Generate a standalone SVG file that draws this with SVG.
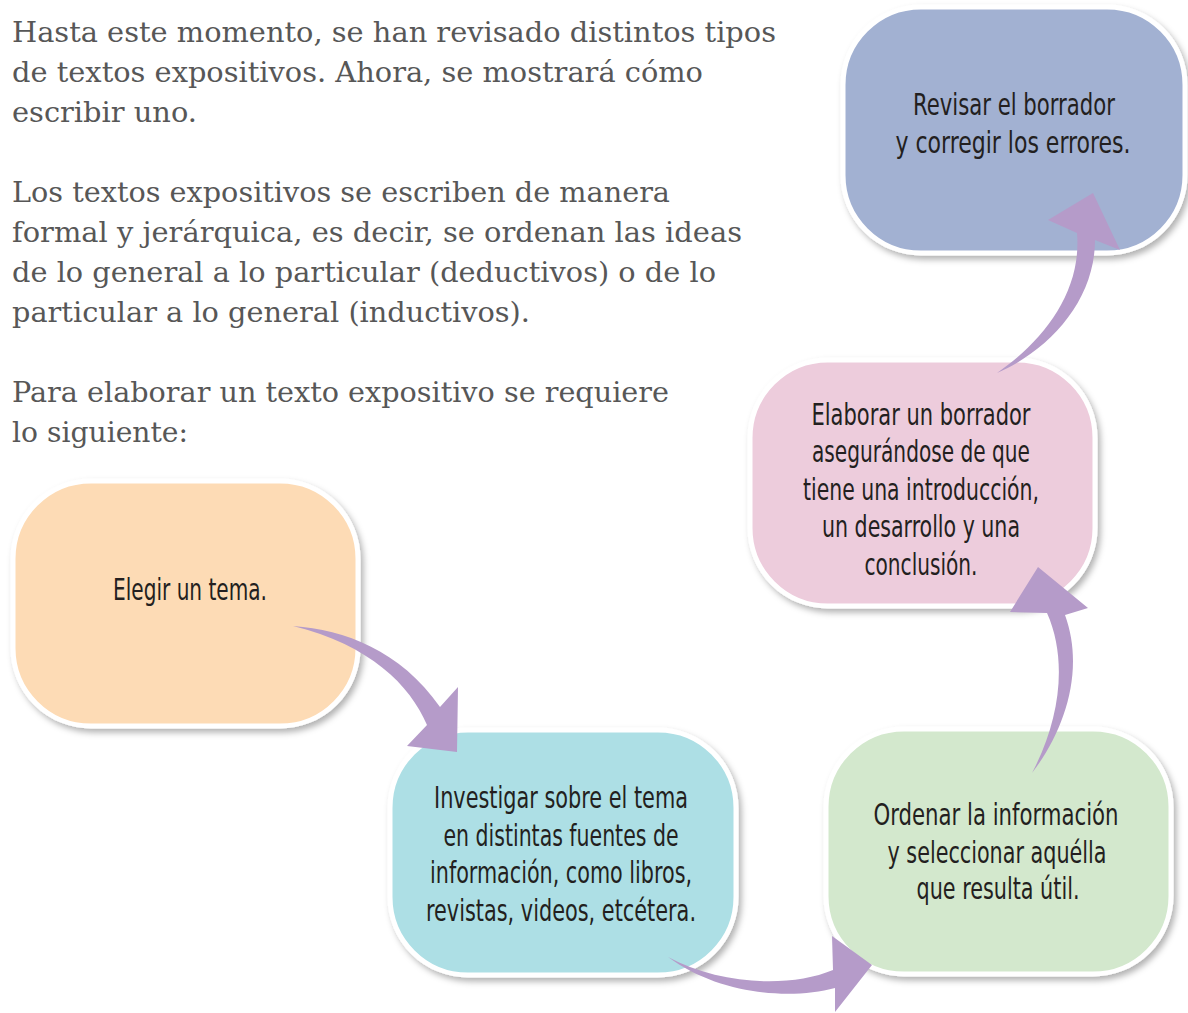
<svg xmlns="http://www.w3.org/2000/svg" width="1188" height="1013" viewBox="0 0 1188 1013">
<defs>
<filter id="sh" x="-10%" y="-10%" width="125%" height="125%">
<feDropShadow dx="3" dy="4" stdDeviation="3" flood-color="#000" flood-opacity="0.3"/>
</filter>
<style>
.p{font-family:"DejaVu Serif","Liberation Serif",serif;font-size:27px;fill:#575757}
.b{stroke:#fff;stroke-width:5;filter:url(#sh)}
.t{font-family:"DejaVu Sans Condensed","DejaVu Sans","Liberation Sans",sans-serif;font-size:30px;fill:#231f20;text-anchor:middle}
.a{fill:#b59bc9}
</style>
</defs>
<g id="intro">
<text class="p" x="12" y="42" textLength="764" lengthAdjust="spacingAndGlyphs">Hasta este momento, se han revisado distintos tipos</text>
<text class="p" x="12" y="82" textLength="691" lengthAdjust="spacingAndGlyphs">de textos expositivos. Ahora, se mostrará cómo</text>
<text class="p" x="12" y="122" textLength="185" lengthAdjust="spacingAndGlyphs">escribir uno.</text>
<text class="p" x="12" y="202" textLength="658" lengthAdjust="spacingAndGlyphs">Los textos expositivos se escriben de manera</text>
<text class="p" x="12" y="242" textLength="730" lengthAdjust="spacingAndGlyphs">formal y jerárquica, es decir, se ordenan las ideas</text>
<text class="p" x="12" y="282" textLength="704" lengthAdjust="spacingAndGlyphs">de lo general a lo particular (deductivos) o de lo</text>
<text class="p" x="12" y="322" textLength="518" lengthAdjust="spacingAndGlyphs">particular a lo general (inductivos).</text>
<text class="p" x="12" y="402" textLength="657" lengthAdjust="spacingAndGlyphs">Para elaborar un texto expositivo se requiere</text>
<text class="p" x="12" y="442" textLength="176" lengthAdjust="spacingAndGlyphs">lo siguiente:</text>
</g>
<g id="n1">
<rect class="b" x="13" y="481" width="345" height="245" rx="78" fill="#fddbb5"/>
<text class="t" x="190" y="600" textLength="154" lengthAdjust="spacingAndGlyphs">Elegir un tema.</text>
</g>
<g id="n2">
<rect class="b" x="390" y="730" width="346" height="245" rx="78" fill="#addfe5"/>
<text class="t" x="561" y="808" textLength="254" lengthAdjust="spacingAndGlyphs">Investigar sobre el tema</text>
<text class="t" x="561" y="846" textLength="235" lengthAdjust="spacingAndGlyphs">en distintas fuentes de</text>
<text class="t" x="561" y="883" textLength="262" lengthAdjust="spacingAndGlyphs">información, como libros,</text>
<text class="t" x="561" y="921" textLength="270" lengthAdjust="spacingAndGlyphs">revistas, videos, etcétera.</text>
</g>
<g id="n3">
<rect class="b" x="826" y="729" width="345" height="245" rx="78" fill="#d3e8cd"/>
<text class="t" x="996" y="825" textLength="245" lengthAdjust="spacingAndGlyphs">Ordenar la información</text>
<text class="t" x="997" y="863" textLength="219" lengthAdjust="spacingAndGlyphs">y seleccionar aquélla</text>
<text class="t" x="998" y="899" textLength="163" lengthAdjust="spacingAndGlyphs">que resulta útil.</text>
</g>
<g id="n4">
<rect class="b" x="750" y="360" width="345" height="246" rx="78" fill="#edccdc"/>
<text class="t" x="921" y="425" textLength="219" lengthAdjust="spacingAndGlyphs">Elaborar un borrador</text>
<text class="t" x="921" y="462" textLength="218" lengthAdjust="spacingAndGlyphs">asegurándose de que</text>
<text class="t" x="921" y="500" textLength="236" lengthAdjust="spacingAndGlyphs">tiene una introducción,</text>
<text class="t" x="921" y="537" textLength="198" lengthAdjust="spacingAndGlyphs">un desarrollo y una</text>
<text class="t" x="921" y="575" textLength="113" lengthAdjust="spacingAndGlyphs">conclusión.</text>
</g>
<g id="n5">
<rect class="b" x="843" y="7" width="342" height="246" rx="78" fill="#a2b1d2"/>
<text class="t" x="1014" y="115" textLength="202" lengthAdjust="spacingAndGlyphs">Revisar el borrador</text>
<text class="t" x="1013" y="153" textLength="235" lengthAdjust="spacingAndGlyphs">y corregir los errores.</text>
</g>
<g id="connectors">
<path class="a" d="M293,626 C345,630 400,650 440,707 L458,687 L457,752 L407,746 L427,725 C410,685 370,645 293,626 Z"/>
<path class="a" d="M668,957 C720,995 790,1000 835,988 L835,1012 L872,965 L832,936 L833,970 C790,988 720,985 668,957 Z"/>
<path class="a" d="M1032,773 C1065,730 1085,670 1065,615 L1088,608 L1038,567 L1010,612 L1047,613 C1068,660 1060,720 1032,773 Z"/>
<path class="a" d="M997,373 C1050,350 1095,300 1095,240 L1120,250 L1093,193 L1048,220 L1077,233 C1082,290 1045,340 997,373 Z"/>
</g>
</svg>
